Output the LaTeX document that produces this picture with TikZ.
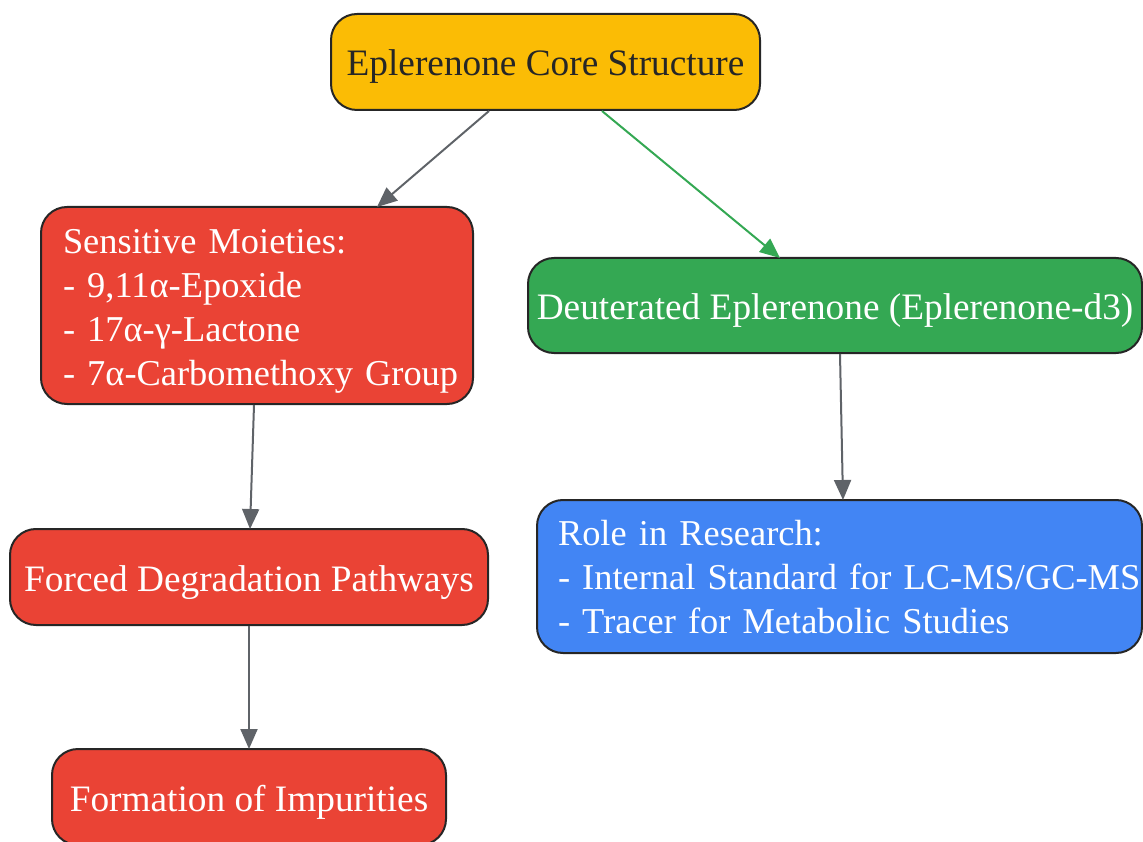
\documentclass[tikz,border=0pt]{standalone}
\usepackage{fontspec}
\setmainfont{Liberation Serif}
\usetikzlibrary{arrows.meta}

\definecolor{gYellow}{HTML}{FBBC05}
\definecolor{gRed}{HTML}{EA4335}
\definecolor{gGreen}{HTML}{34A853}
\definecolor{gBlue}{HTML}{4285F4}
\definecolor{gGray}{HTML}{5F6368}
\definecolor{gEdge}{HTML}{262626}

\begin{document}
\begin{tikzpicture}
[x=1pt,y=-1pt,
  boxDecorate/.style={draw=gEdge,line width=2pt,rounded corners=26pt,
    inner sep=0pt,text height=34pt,text depth=6pt,
    font=\fontsize{37.3}{44}\selectfont},%
  leftDecorate/.style={boxDecorate,align=left,inner xsep=22pt,inner ysep=0pt,
    font=\fontsize{36.4}{44}\selectfont},%
  lineDecorate/.style={line width=2pt,draw=gGray,
    -{Triangle[length=20pt,width=17pt]}}]
\useasboundingbox (0,0) rectangle (1143,842);
%% nodes
\node (core) at (545.5,62) [boxDecorate,fill=gYellow,text=gEdge,
  minimum width=429pt,minimum height=96pt] {Eplerenone Core Structure};
\node (sens) at (257,305.5) [leftDecorate,fill=gRed,text=white,
  text width=388pt,text height=36pt,text depth=140pt,minimum height=197pt]
  {\mbox{Sensitive Moieties:}\\ \mbox{- 9,11α-Epoxide}\\ \mbox{- 17α-γ-Lactone}\\
   \mbox{- 7α-Carbomethoxy Group}};
\node (deut) at (835,305.5) [boxDecorate,fill=gGreen,text=white,
  minimum width=614pt,minimum height=95pt] {Deuterated Eplerenone (Eplerenone-d3)};
\node (role) at (839.5,576.5) [leftDecorate,fill=gBlue,text=white,
  inner xsep=21pt,text width=563pt,text height=33pt,text depth=96pt,
  minimum height=153pt]
  {\mbox{Role in Research:}\\ \mbox{- Internal Standard for LC-MS/GC-MS}\\
   \mbox{- Tracer for Metabolic Studies}};
\node (forced) at (249,577) [boxDecorate,fill=gRed,text=white,
  minimum width=478pt,minimum height=96pt] {Forced Degradation Pathways};
\node (form) at (249,797) [boxDecorate,fill=gRed,text=white,
  minimum width=394pt,minimum height=96pt] {Formation of Impurities};
%% edges
\foreach \startnode/\sx/\endnode/\ex/\col in {
  core/-56.5/sens/120/gGray, core/56.5/deut/-55/gGreen,
  deut/5/role/3.5/gGray, sens/-3/forced/1/gGray, forced/0/form/0/gGray}
{
  \draw[lineDecorate,draw=\col,fill=\col] ([xshift=\sx pt]\startnode.south)
    -- ([xshift=\ex pt,yshift=-1pt]\endnode.north);
}
\end{tikzpicture}
\end{document}
